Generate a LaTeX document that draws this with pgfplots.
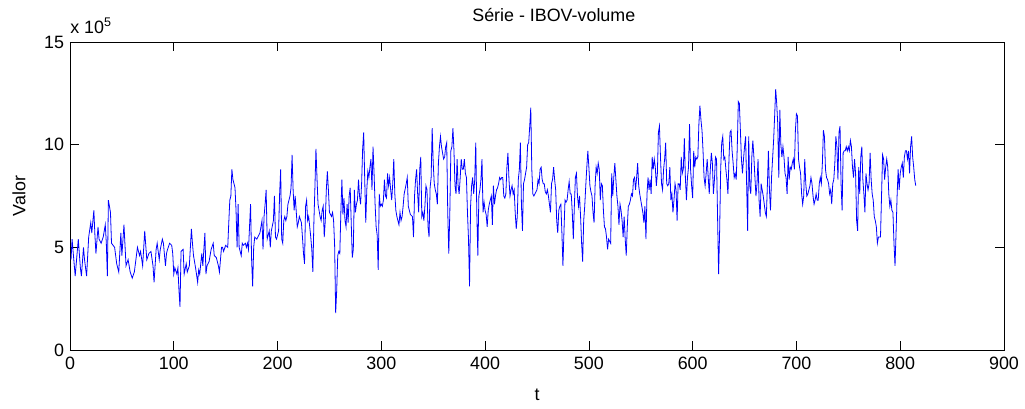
\documentclass[border=0pt]{standalone}
\usepackage{fontspec}
\setmainfont{Liberation Sans}
\usepackage{pgfplots}
\pgfplotsset{compat=1.18}
\usepackage{pgfplotstable}
\pgfplotstableread{
t v
1 4.4
2 5.4
4 4.2
5 3.6
7 4.8
8 5.4
10 4.0
11 3.6
13 5.0
14 4.4
16 3.6
18 5.5
20 6.2
21 5.7
23 6.8
24 5.6
25 4.7
27 6.0
28 5.4
30 5.2
32 5.5
34 6.1
35 5.2
36 3.6
37 7.3
39 6.7
40 5.2
43 5.0
45 4.2
47 3.8
49 5.7
50 4.6
52 6.1
54 4.1
56 4.4
58 3.8
60 3.5
62 3.8
64 4.6
65 5.0
67 4.6
68 4.8
70 4.1
72 5.8
74 4.4
76 4.7
78 4.8
80 4.1
81 3.3
83 4.9
84 5.2
86 4.4
87 4.9
89 5.4
90 5.2
92 4.1
93 4.7
94 4.9
96 5.2
98 5.1
99 4.7
100 3.7
101 4.0
103 3.7
104 4.0
105 2.9
106 2.1
107 4.8
109 4.9
110 3.7
112 4.2
113 3.8
115 4.1
117 5.9
118 5.2
119 4.6
121 4.0
123 3.3
124 3.9
125 3.7
127 4.7
128 4.1
130 5.7
131 3.7
132 4.1
134 4.3
136 4.9
138 5.2
139 4.6
141 4.5
142 4.3
143 4.1
144 3.8
146 5.0
147 5.0
148 4.8
150 5.1
152 5.0
153 6.2
154 7.3
155 7.5
156 8.8
157 8.3
159 7.9
160 6.8
161 5.0
162 7.1
163 5.0
165 4.6
166 5.2
167 5.1
169 5.2
170 5.0
171 5.2
172 4.9
174 7.1
175 4.4
176 3.1
177 5.0
178 5.5
180 5.4
181 5.5
182 5.6
183 5.7
185 6.3
186 4.9
187 6.5
188 7.1
189 7.8
190 5.4
192 5.8
193 5.0
194 5.8
196 6.3
197 7.5
198 5.5
199 5.4
201 5.8
202 7.6
203 8.8
204 5.4
205 5.2
206 6.3
207 6.5
208 6.3
209 6.5
210 7.1
212 7.5
213 7.9
214 9.5
215 7.8
216 6.8
217 7.5
219 6.0
220 6.2
221 6.5
223 6.2
224 5.5
225 4.7
226 4.2
227 7.0
228 7.3
229 6.3
230 6.5
232 5.5
233 4.9
234 3.8
235 6.2
236 7.9
237 9.8
238 8.4
239 7.1
241 6.5
242 6.3
243 6.8
244 7.0
245 5.5
246 6.3
247 7.8
248 8.7
249 7.8
250 6.7
252 6.5
253 6.7
254 6.3
255 5.1
256 1.8
257 2.9
258 4.6
259 4.8
260 4.7
261 6.7
262 8.3
263 6.6
264 7.4
265 6.3
266 6.0
267 7.1
268 6.2
269 7.5
270 7.9
271 6.2
272 4.5
273 4.9
274 7.8
275 6.7
276 7.1
277 7.3
278 8.3
279 7.5
280 7.1
281 8.1
282 9.8
283 10.6
284 8.3
285 6.2
286 7.8
287 8.7
288 8.4
289 8.9
290 9.3
291 7.8
292 9.9
293 8.6
294 7.1
295 6.0
296 5.6
297 3.9
298 7.6
299 7.0
300 7.1
301 7.0
302 7.3
303 8.3
304 7.5
305 7.4
306 8.6
307 8.0
308 8.4
309 7.8
310 7.3
311 8.1
312 9.3
313 7.6
314 6.8
315 6.5
317 6.1
318 6.7
319 6.3
320 6.5
321 7.0
322 7.6
324 8.1
325 8.4
326 7.0
327 6.8
328 6.6
330 6.5
331 5.5
332 7.5
333 8.3
334 8.8
335 7.6
336 6.7
337 8.8
338 9.4
339 6.5
340 6.7
341 6.3
342 7.0
343 8.0
344 7.8
345 6.0
346 5.5
347 7.9
348 8.4
349 10.8
350 9.1
351 8.1
352 7.8
353 7.6
354 7.1
355 9.1
356 9.9
357 10.4
358 9.9
359 9.6
360 9.3
361 9.4
362 9.9
363 10.1
364 6.7
365 4.7
366 6.7
367 9.7
368 9.9
369 10.8
370 9.7
371 8.0
372 7.6
373 9.3
374 8.0
375 7.6
376 8.4
377 9.3
378 8.8
379 8.8
380 9.3
381 8.6
382 8.4
383 6.7
384 5.4
385 3.1
386 7.0
387 8.0
388 8.4
389 7.6
390 8.3
391 10.1
392 6.7
393 4.6
394 7.5
395 7.8
396 8.3
397 9.3
398 6.7
399 7.2
400 6.8
401 6.6
402 6.0
403 6.8
404 7.1
405 7.3
406 7.5
407 6.1
408 8.0
409 7.1
410 7.5
411 7.8
412 7.9
413 8.1
414 8.4
415 8.3
416 8.4
417 8.4
418 7.5
419 7.4
420 7.6
421 8.9
422 9.6
423 8.3
424 7.5
425 7.8
426 8.0
427 7.6
428 7.8
429 6.7
430 5.9
431 6.5
432 8.3
433 8.8
434 10.1
435 7.1
436 5.8
437 8.1
438 8.3
439 8.6
440 8.9
441 10.0
442 10.1
443 10.9
444 11.8
445 8.8
446 7.6
447 7.5
448 7.6
449 7.7
450 7.8
451 8.3
452 8.1
453 8.8
454 8.9
455 8.3
456 8.1
457 8.1
458 7.7
459 7.6
460 7.8
461 7.5
462 7.1
463 6.7
464 8.1
465 8.3
466 8.9
467 8.3
468 7.8
469 6.3
470 5.7
471 6.8
472 7.0
473 7.1
474 5.7
475 4.1
476 5.8
477 7.3
478 7.2
479 7.3
480 7.8
481 8.2
482 7.6
483 7.6
484 6.7
485 5.4
486 7.0
487 8.4
488 8.6
489 7.5
490 7.0
491 7.5
492 6.5
493 5.2
494 4.3
495 6.3
496 7.0
497 8.0
498 8.9
499 9.7
500 8.9
501 8.0
502 7.7
503 7.5
504 6.7
505 6.2
506 8.0
507 8.9
508 8.6
509 9.1
510 8.8
511 7.3
512 8.1
513 8.0
514 6.8
515 6.0
516 5.9
517 5.5
518 4.9
519 5.4
520 5.3
521 5.2
522 8.6
523 7.5
524 8.4
525 9.1
526 8.3
527 7.5
528 7.0
529 6.1
530 7.1
531 6.8
532 6.3
533 5.5
534 6.5
535 5.4
536 4.6
537 6.0
538 7.0
539 7.1
540 7.3
541 7.6
542 7.5
543 8.3
544 8.4
545 7.8
546 8.4
547 9.1
548 8.0
549 7.6
550 7.3
551 7.0
552 6.7
553 6.2
554 7.0
555 5.4
556 7.6
557 8.4
558 7.8
559 8.3
560 7.6
561 9.4
562 8.8
563 9.3
564 8.9
565 8.0
566 8.6
567 10.6
568 10.9
569 9.4
570 8.1
571 7.8
572 8.8
573 9.3
574 10.1
575 8.1
576 8.0
577 8.1
578 8.9
579 7.3
580 7.6
581 6.7
582 7.3
583 8.1
584 7.8
585 6.3
586 8.1
587 8.1
588 7.8
589 9.4
590 8.6
591 8.8
592 10.3
593 8.4
594 7.3
595 8.4
596 8.9
597 11.0
598 8.8
599 8.0
600 7.4
601 9.7
602 8.9
603 9.4
604 9.3
605 9.4
606 11.0
607 11.9
608 11.2
609 10.7
610 9.7
611 8.4
612 8.0
613 8.6
614 9.3
615 8.4
616 7.6
617 8.8
618 9.6
619 9.1
620 7.6
621 8.3
622 9.4
623 9.3
624 6.5
625 3.7
626 5.8
627 8.8
628 10.1
629 10.4
630 9.3
631 9.4
632 8.8
633 8.3
634 7.6
635 9.3
636 10.6
637 10.7
638 9.7
639 9.1
640 8.4
641 8.6
642 8.3
643 9.9
644 12.1
645 12.0
646 10.7
647 9.3
648 8.6
649 9.3
650 9.9
651 10.4
652 8.1
653 5.8
654 10.4
655 8.0
656 7.6
657 9.4
658 10.2
659 9.4
660 8.4
661 7.5
662 8.1
663 9.3
664 7.3
665 6.5
666 8.1
667 7.8
668 7.5
669 7.1
670 6.7
671 6.5
672 8.0
673 9.7
674 7.8
675 6.8
676 8.4
677 9.3
678 10.2
679 11.4
680 12.7
681 12.0
682 11.0
683 8.4
684 11.7
685 10.0
686 9.4
687 9.9
688 9.4
689 8.6
690 8.4
691 7.6
692 9.4
693 8.3
694 8.9
695 8.8
696 9.1
697 9.3
698 8.8
699 10.7
700 11.5
701 11.4
702 9.3
703 8.9
704 8.6
705 7.6
706 7.1
707 7.5
708 9.3
709 8.1
710 7.5
711 7.6
712 7.8
713 8.0
714 8.4
715 8.1
716 7.5
717 7.1
718 7.3
719 7.6
720 7.3
721 7.3
722 8.1
723 8.4
724 8.1
725 9.1
726 10.7
727 10.4
728 8.8
729 8.4
730 8.3
731 8.1
732 7.6
733 7.8
734 7.1
735 8.1
736 8.3
737 9.1
738 10.4
739 9.9
740 8.3
741 10.6
742 10.9
743 8.1
744 6.8
745 9.6
746 9.7
747 9.7
748 9.9
749 9.7
750 9.9
751 9.7
752 10.2
753 9.9
754 8.9
755 8.4
756 9.3
757 8.6
758 6.3
759 5.8
760 8.9
761 7.6
762 9.4
763 9.9
764 8.3
765 7.6
766 6.7
767 8.6
768 8.1
769 7.8
770 8.1
771 9.6
772 8.3
773 7.6
774 7.3
775 6.5
776 6.3
777 6.0
778 5.2
779 5.5
780 5.5
781 5.5
782 7.5
783 9.5
784 9.3
785 8.3
786 8.9
787 9.3
788 8.9
789 7.6
790 7.0
791 7.3
792 6.8
793 6.7
794 5.2
795 4.1
796 5.7
797 7.5
798 8.8
799 7.8
800 8.6
801 8.9
802 9.1
803 8.4
804 9.4
805 9.7
806 9.7
807 9.3
808 9.7
809 8.6
810 9.9
811 10.4
812 9.4
813 8.9
814 8.3
815 8.0
}\serie
\newcommand{\ff}{\fontsize{13.4}{16}\selectfont}
\begin{document}
\begin{tikzpicture}
\path[use as bounding box] (-52.5pt,-43.5pt) rectangle (716.25pt,262.5pt);
\begin{axis}[
  name=ax,
  at={(0,0)}, anchor=south west,
  scale only axis,
  width=700.5pt, height=231pt,
  xmin=0, xmax=900, ymin=0, ymax=15,
  xtick={0,100,...,900},
  ytick={0,5,10,15},
  tick align=inside,
  major tick length=7pt,
  axis line style={line width=0.6pt},
  every tick/.style={black, line width=0.5pt},
  /pgf/number format/assume math mode=true,
  tick label style={font=\ff},
  xticklabel style={yshift=-2pt},
  yticklabel style={xshift=-1pt},
  title={Série - IBOV-volume},
  title style={font=\ff, at={(axis description cs:0.518,1.0615)}, anchor=center},
  xlabel={t},
  xlabel style={font=\ff, at={(axis description cs:0.5,-0.146)}, anchor=center},
  ylabel={Valor},
  ylabel style={font=\ff, at={(axis description cs:-0.0546,0.5)}, anchor=center},
]
\addplot[color={rgb,255:red,0;green,0;blue,255}, line width=0.6pt, mark=none] table[x=t, y=v] {\serie};
\end{axis}
\node[anchor=base west, inner sep=0pt, font=\ff, yshift=6.75pt] at (ax.north west) {x 10\textsuperscript{5}};
\end{tikzpicture}
\end{document}
